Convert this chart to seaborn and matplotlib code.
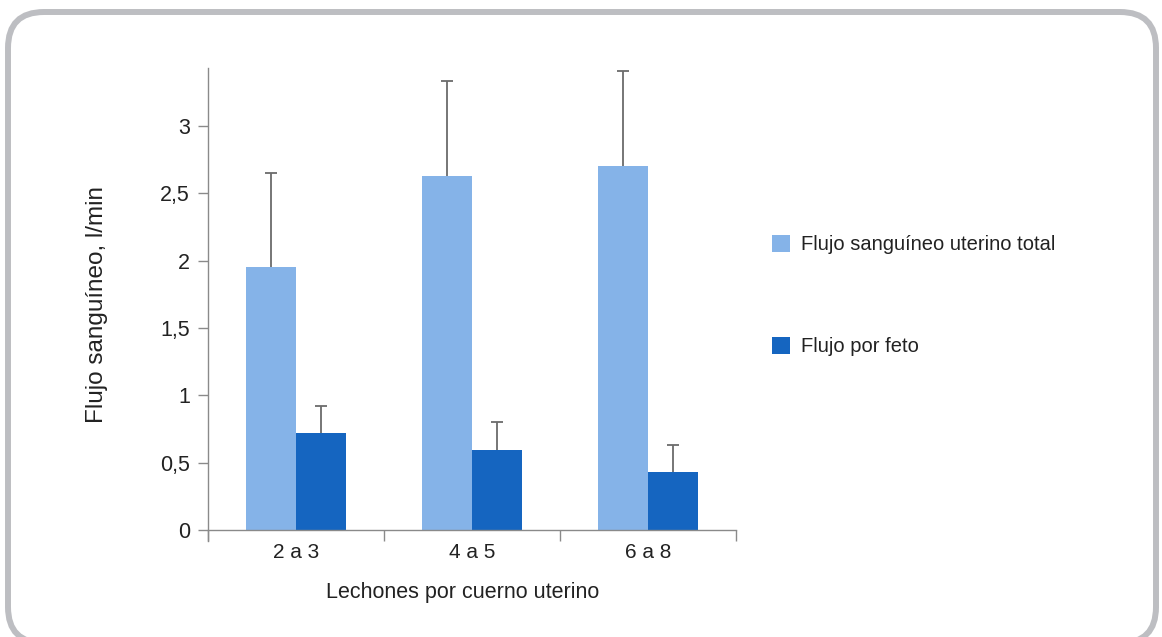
import matplotlib
matplotlib.use("Agg")
import matplotlib.pyplot as plt
import matplotlib.transforms as mtransforms
from matplotlib.patches import FancyBboxPatch
from matplotlib.ticker import FixedLocator, FuncFormatter
import seaborn as sns
import pandas as pd
import numpy as np

# ---- data ----
categories = ["2 a 3", "4 a 5", "6 a 8"]
series_names = ["Flujo sanguíneo uterino total", "Flujo por feto"]
total_flow = [1.95, 2.63, 2.70]
total_err = [0.70, 0.70, 0.71]
fetus_flow = [0.72, 0.595, 0.43]
fetus_err = [0.20, 0.205, 0.20]
y_ticks = [0, 0.5, 1, 1.5, 2, 2.5, 3]
colors = ["#85B3E8", "#1565C0"]

df = pd.DataFrame({
    "cat": categories * 2,
    "serie": [series_names[0]] * 3 + [series_names[1]] * 3,
    "val": total_flow + fetus_flow,
})

sns.set_style("white")
plt.rcParams["font.family"] = ["Liberation Sans", "DejaVu Sans"]

fig = plt.figure(figsize=(11.62, 6.37), dpi=100)
ax = fig.add_axes([208 / 1162, 1 - 541 / 637, (736 - 208) / 1162, (541 - 68) / 637])

sns.barplot(data=df, x="cat", y="val", hue="serie", order=categories,
            hue_order=series_names, palette=colors, width=0.57,
            saturation=1, errorbar=None, ax=ax, linewidth=0)

# error bars (upper only) from the bar patches
bars = [p for p in ax.patches if p.get_height() > 0]
errs = total_err + fetus_err
vals = total_flow + fetus_flow
xs = [p.get_x() + p.get_width() / 2 for p in bars]
eb = ax.errorbar(xs, vals, yerr=[np.zeros(len(errs)), errs], fmt="none",
                 ecolor="#6b6b6b", elinewidth=1.3, capsize=4.5, capthick=1.3, zorder=3)
caplines = eb[1]
if len(caplines) == 2:
    caplines[0].set_visible(False)

ymin = -0.08
ax.set_ylim(ymin, 3.43)
ax.set_xlim(-0.5, 2.5)
ax.spines["right"].set_visible(False)
ax.spines["top"].set_visible(False)
ax.spines["bottom"].set_position(("data", 0))
for s in ("left", "bottom"):
    ax.spines[s].set_color("#8a8a8a")
    ax.spines[s].set_linewidth(1.0)

ax.yaxis.set_major_locator(FixedLocator(y_ticks))
ax.yaxis.set_major_formatter(FuncFormatter(lambda v, _: ("%g" % v).replace(".", ",")))
ax.tick_params(axis="y", direction="out", length=7, width=1, color="#8a8a8a",
               labelsize=15.5, labelcolor="#222222", pad=6, left=True)
ax.tick_params(axis="x", which="major", length=0, labelsize=15,
               labelcolor="#222222", pad=9)
ax.xaxis.set_minor_locator(FixedLocator([-0.5, 0.5, 1.5, 2.5]))
ax.tick_params(axis="x", which="minor", direction="out", length=8, width=1,
               color="#8a8a8a", bottom=True)

ax.set_xlabel("Lechones por cuerno uterino", fontsize=15.5, color="#222222")
ax.xaxis.set_label_coords(0.483, -0.086)
ax.set_ylabel("Flujo sanguíneo, l/min", fontsize=17.5, color="#222222")
ax.yaxis.set_label_coords(-0.19, 0.5)

leg = ax.legend(loc="upper left", bbox_to_anchor=(772 / 1162, 1 - 235 / 637),
                bbox_transform=fig.transFigure, frameon=False, fontsize=14.5,
                handlelength=0.9, handleheight=0.9, handletextpad=0.55,
                labelspacing=4.1, borderaxespad=0, borderpad=0)
for t in leg.get_texts():
    t.set_color("#222222")

# rounded border
border = FancyBboxPatch((8, -6), 1148, 631, boxstyle="round,pad=0,rounding_size=36",
                        transform=mtransforms.IdentityTransform(), fill=False,
                        edgecolor="#BDBEC2", linewidth=4.3, zorder=0)
fig.patches.append(border)

fig.savefig("out.png", dpi=100)
